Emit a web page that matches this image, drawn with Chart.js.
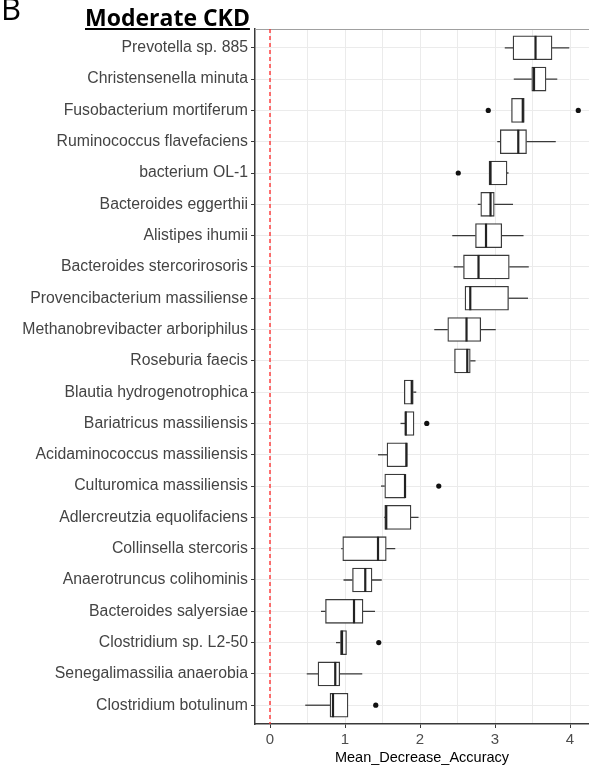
<!DOCTYPE html>
<html>
<head>
<meta charset="utf-8">
<script src="https://cdn.jsdelivr.net/npm/chart.js@4.4.1/dist/chart.umd.min.js"></script>
<style>
  body { margin: 0; background: #fff; }
  #wrap { position: relative; width: 589px; height: 767px; overflow: hidden; }
  #panel { position: absolute; left: 1px; top: -13px; font: 31px "Open Sans", sans-serif; line-height: normal; color: #000; }
  #title { position: absolute; left: 85px; top: 6px; font: bold 23px "Open Sans", sans-serif; line-height: 23px; color: #000;
           text-decoration: underline; text-decoration-thickness: 2px; text-underline-offset: 2px; }
  canvas { position: absolute; left: 0; top: 0; }
</style>
</head>
<body>
<div id="wrap">
  <canvas id="chart" width="589" height="767"></canvas>
  <div id="panel">B</div>
  <div id="title">Moderate CKD</div>
</div>
<script>
// Boxplot data, top row first
const species = [
    'Prevotella sp. 885', 'Christensenella minuta', 'Fusobacterium mortiferum',
    'Ruminococcus flavefaciens', 'bacterium OL-1', 'Bacteroides eggerthii',
    'Alistipes ihumii', 'Bacteroides stercorirosoris', 'Provencibacterium massiliense',
    'Methanobrevibacter arboriphilus', 'Roseburia faecis', 'Blautia hydrogenotrophica',
    'Bariatricus massiliensis', 'Acidaminococcus massiliensis', 'Culturomica massiliensis',
    'Adlercreutzia equolifaciens', 'Collinsella stercoris', 'Anaerotruncus colihominis',
    'Bacteroides salyersiae', 'Clostridium sp. L2-50', 'Senegalimassilia anaerobia',
    'Clostridium botulinum'
];
const whiskerLow    = [3.13, 3.25, 3.22, 3.03, 2.92, 2.77, 2.43, 2.45, 2.60, 2.19, 2.46, 1.79, 1.74, 1.44, 1.48, 1.52, 0.95, 0.98, 0.68, 0.88, 0.49, 0.47];
const lowerQuartile = [3.24, 3.49, 3.22, 3.07, 2.92, 2.81, 2.74, 2.58, 2.60, 2.37, 2.46, 1.79, 1.80, 1.56, 1.53, 1.53, 0.97, 1.10, 0.74, 0.94, 0.64, 0.80];
const medians       = [3.54, 3.52, 3.37, 3.31, 2.94, 2.94, 2.88, 2.78, 2.67, 2.62, 2.63, 1.89, 1.81, 1.82, 1.80, 1.55, 1.44, 1.27, 1.12, 0.96, 0.87, 0.84];
const upperQuartile = [3.76, 3.68, 3.39, 3.42, 3.16, 2.99, 3.09, 3.19, 3.18, 2.81, 2.67, 1.91, 1.92, 1.82, 1.80, 1.88, 1.55, 1.36, 1.24, 1.02, 0.93, 1.04];
const whiskerHigh   = [3.99, 3.83, 3.39, 3.81, 3.18, 3.24, 3.38, 3.45, 3.44, 3.01, 2.74, 1.95, 1.92, 1.82, 1.80, 1.98, 1.67, 1.49, 1.40, 1.02, 1.23, 1.04];
const outlierRows   = [2, 2, 4, 12, 14, 19, 21];
const outlierValues = [2.91, 4.11, 2.51, 2.09, 2.25, 1.45, 1.41];
const xTickValues   = [0, 0.5, 1, 1.5, 2, 2.5, 3, 3.5, 4];

const lineColor = '#3a3a3a';

// whiskers, zero line and medians drawn via the chart scales
const boxExtras = {
    id: 'boxExtras',
    beforeDatasetsDraw(chart) {
        const { ctx, chartArea, scales: { x, y } } = chart;
        ctx.save();
        // top panel border
        ctx.strokeStyle = '#a0a0a0';
        ctx.lineWidth = 1;
        ctx.beginPath();
        ctx.moveTo(chartArea.left, chartArea.top + 0.5);
        ctx.lineTo(chartArea.right, chartArea.top + 0.5);
        ctx.stroke();
        // red dashed reference line
        const x0 = x.getPixelForValue(0);
        ctx.strokeStyle = 'rgba(255, 45, 45, 0.9)';
        ctx.lineWidth = 1.5;
        ctx.setLineDash([4, 3]);
        ctx.beginPath();
        ctx.moveTo(x0, chartArea.top);
        ctx.lineTo(x0, chartArea.bottom);
        ctx.stroke();
        // whiskers
        ctx.setLineDash([]);
        ctx.strokeStyle = lineColor;
        ctx.lineWidth = 1.3;
        species.forEach((s, i) => {
            const yy = y.getPixelForValue(i);
            ctx.beginPath();
            ctx.moveTo(x.getPixelForValue(whiskerLow[i]), yy);
            ctx.lineTo(x.getPixelForValue(lowerQuartile[i]), yy);
            ctx.moveTo(x.getPixelForValue(upperQuartile[i]), yy);
            ctx.lineTo(x.getPixelForValue(whiskerHigh[i]), yy);
            ctx.stroke();
        });
        ctx.restore();
    },
    afterDatasetsDraw(chart) {
        const { ctx, scales: { x, y } } = chart;
        const bars = chart.getDatasetMeta(0).data;
        ctx.save();
        ctx.strokeStyle = '#222';
        ctx.lineWidth = 2.2;
        species.forEach((s, i) => {
            const half = bars[i].height / 2;
            const yy = y.getPixelForValue(i);
            const xm = x.getPixelForValue(medians[i]);
            ctx.beginPath();
            ctx.moveTo(xm, yy - half);
            ctx.lineTo(xm, yy + half);
            ctx.stroke();
        });
        ctx.restore();
    }
};

new Chart(document.getElementById('chart'), {
    type: 'bar',
    data: {
        datasets: [
            {
                data: species.map((s, i) => ({ y: i, x: [lowerQuartile[i], upperQuartile[i]] })),
                backgroundColor: '#ffffff',
                borderColor: lineColor,
                borderWidth: 1.3,
                borderSkipped: false,
                barThickness: 24,
                grouped: false
            },
            {
                type: 'scatter',
                data: outlierValues.map((v, k) => ({ x: v, y: outlierRows[k] })),
                pointRadius: 2.6,
                pointBackgroundColor: '#111',
                pointBorderWidth: 0,
                order: -1
            }
        ]
    },
    options: {
        indexAxis: 'y',
        responsive: false,
        animation: false,
        layout: { autoPadding: false, padding: { top: 29, right: 0, left: 0, bottom: 0 } },
        plugins: { legend: { display: false }, tooltip: { enabled: false } },
        scales: {
            x: {
                type: 'linear',
                min: -0.2,
                max: 4.253,
                afterBuildTicks: (scale) => { scale.ticks = xTickValues.map(v => ({ value: v })); },
                afterFit: (scale) => {
                    scale.height = 43;
                    scale.paddingLeft = 0;
                    scale.paddingRight = 0;
                },
                grid: {
                    color: '#ebebeb',
                    lineWidth: 1,
                    tickLength: 4,
                    tickColor: (c) => (c.tick && Number.isInteger(c.tick.value)) ? lineColor : 'rgba(0,0,0,0)'
                },
                border: { color: lineColor, width: 1.5 },
                ticks: {
                    autoSkip: false,
                    maxRotation: 0,
                    padding: 3,
                    color: '#4d4d4d',
                    font: { family: 'Liberation Sans', size: 15 },
                    callback: (v) => Number.isInteger(v) ? String(v) : ''
                },
                title: {
                    display: true,
                    text: 'Mean_Decrease_Accuracy',
                    color: '#000',
                    font: { family: 'Liberation Sans', size: 14.5 },
                    padding: { top: 0, bottom: 0 }
                }
            },
            y: {
                type: 'linear',
                reverse: true,
                min: -0.6,
                max: 21.6,
                offset: false,
                afterBuildTicks: (scale) => { scale.ticks = species.map((s, i) => ({ value: i })); },
                afterFit: (scale) => {
                    scale.width = 255;
                    scale.paddingTop = 0;
                    scale.paddingBottom = 0;
                },
                grid: {
                    offset: false,
                    color: '#ebebeb',
                    lineWidth: 1,
                    tickLength: 4,
                    tickColor: lineColor
                },
                border: { color: lineColor, width: 1.5 },
                ticks: {
                    autoSkip: false,
                    padding: 3,
                    color: '#444',
                    font: { family: 'Liberation Sans', size: 15.8 },
                    callback: (v) => species[v]
                }
            }
        }
    },
    plugins: [boxExtras]
});
</script>
</body>
</html>
